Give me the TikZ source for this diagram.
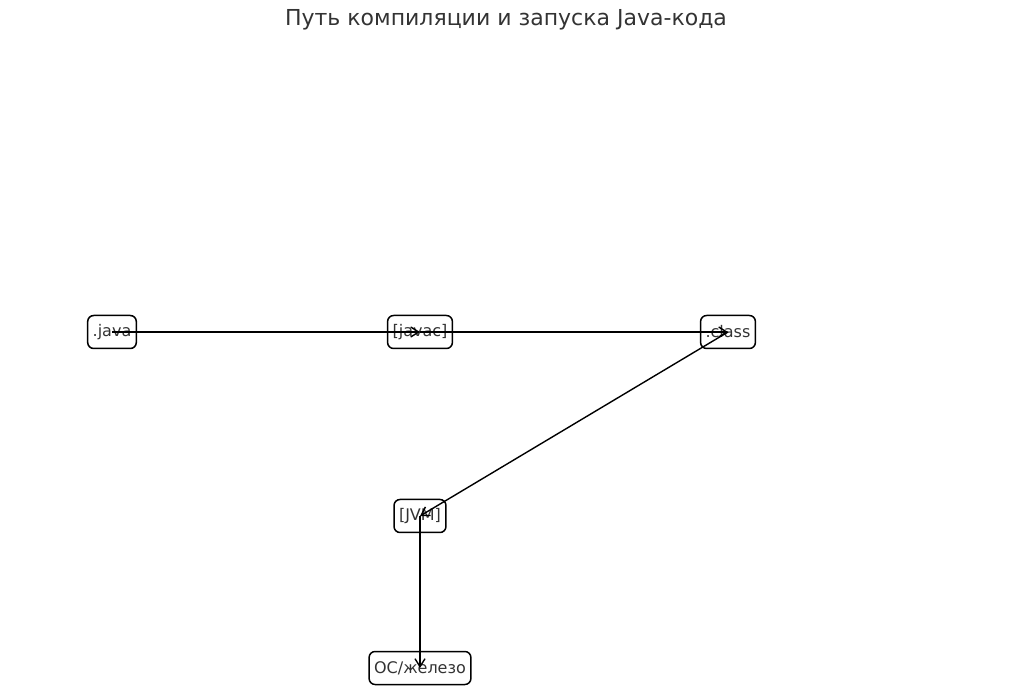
\documentclass[tikz,border=0pt]{standalone}
\usepackage{fontspec}
\setmainfont{DejaVu Sans}
\usetikzlibrary{arrows.meta}
\definecolor{txt}{HTML}{333333}
\begin{document}
\begin{tikzpicture}[x=0.5pt,y=-0.5pt,
  box/.style={draw=black,line width=0.75pt,rounded corners=3pt,font=\fontsize{8}{9}\selectfont,text=txt,minimum height=16.5pt,inner xsep=2.5pt,inner ysep=0pt},
  conn/.style={line width=0.7pt,-{Straight Barb[length=4pt,width=5pt]}}]
\useasboundingbox (0,0) rectangle (1024,700);
\node[font=\fontsize{11}{13}\selectfont,text=txt] (title) at (506,20) {Путь компиляции и запуска Java-кода};
\node[box] (java) at (112,332) {.java};
\node[box] (javac) at (420,332) {[javac]};
\node[box] (class) at (728,332) {.class};
\node[box] (jvm) at (420,516) {[JVM]};
\node[box] (os) at (420,668) {ОС/железо};
\draw[conn] (java.center) -- (javac.center);
\draw[conn] (javac.center) -- (class.center);
\draw[conn] (class.center) -- (jvm.center);
\draw[conn] (jvm.center) -- (os.center);
\end{tikzpicture}
\end{document}
